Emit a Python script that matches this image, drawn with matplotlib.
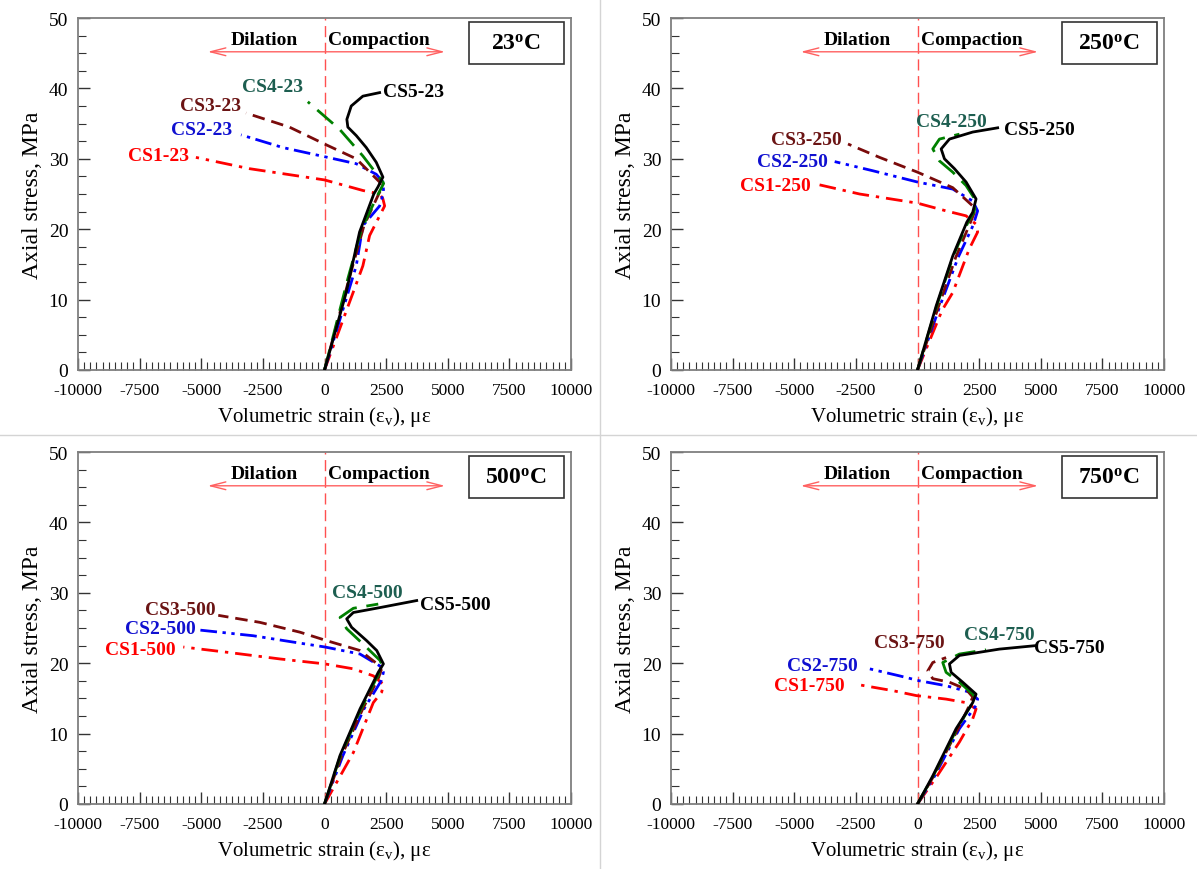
import matplotlib
matplotlib.use("Agg")
import matplotlib.pyplot as plt
from matplotlib.lines import Line2D
from matplotlib.patches import Rectangle
from matplotlib.ticker import MultipleLocator

plt.rcParams["font.family"] = ["Liberation Serif", "DejaVu Serif"]
plt.rcParams["mathtext.fontset"] = "custom"
plt.rcParams["mathtext.rm"] = "Liberation Serif"
plt.rcParams["mathtext.it"] = "Liberation Serif:italic"
plt.rcParams["mathtext.bf"] = "Liberation Serif:bold"
plt.rcParams["axes.unicode_minus"] = False

temps = [23, 250, 500, 750]
names = ["CS1", "CS2", "CS3", "CS4", "CS5"]

# volumetric strain (micro-strain) / axial stress (MPa), CS1..CS5 per temperature
strain_23 = [
    [0, 1160, 1557, 1830, 2236, 2440, 2370, 2236, 1557, 0, -3049, -5217],
    [0, 1288, 1557, 2236, 2400, 2370, 2100, 1288, 0, -1694, -3387],
    [0, 1000, 1600, 2200, 2320, 2236, 1288, 0, -1423, -3184],
    [0, 950, 1500, 2150, 2400, 2370, 1557, 610, -677],
    [0, 880, 1423, 2000, 2168, 2370, 2100, 1694, 1288, 947, 907, 1085, 1557, 2236],
]
stress_23 = [
    [0, 11.0, 14.8, 19.1, 21.9, 23.3, 24.3, 25.0, 25.5, 27.0, 28.6, 30.2],
    [0, 14.8, 20.5, 23.3, 25.2, 26.7, 27.8, 29.3, 30.3, 31.6, 33.4],
    [0, 13.0, 20.5, 25.0, 25.8, 26.7, 30.0, 32.1, 34.5, 36.5],
    [0, 13.0, 20.0, 24.8, 26.5, 26.7, 30.4, 34.2, 38.1],
    [0, 11.0, 19.6, 25.0, 26.0, 27.4, 29.5, 31.6, 33.3, 34.5, 35.6, 37.5, 38.9, 39.4],
]

strain_250 = [
    [0, 1000, 1430, 2100, 2440, 2376, 1970, 1160, 0, -2350, -4100],
    [0, 900, 1650, 2250, 2440, 2240, 1430, 0, -1810, -3360],
    [0, 850, 1550, 2150, 2300, 2240, 1430, 0, -1538, -2820],
    [0, 780, 1450, 2050, 2300, 2376, 1970, 1430, 890, 620, 890, 1700],
    [0, 757, 1430, 2000, 2240, 2376, 1971, 1498, 1093, 960, 1296, 2240, 3252],
]
stress_250 = [
    [0, 8.5, 11.0, 17.2, 19.6, 20.7, 21.9, 22.6, 23.7, 25.0, 26.4],
    [0, 9.0, 16.0, 20.5, 22.6, 24.0, 25.7, 26.7, 28.3, 29.6],
    [0, 9.0, 16.0, 21.0, 22.3, 23.3, 25.9, 28.1, 30.2, 32.1],
    [0, 9.1, 16.2, 21.0, 22.5, 24.0, 26.2, 28.1, 29.7, 31.4, 32.8, 33.5],
    [0, 9.1, 16.2, 21.0, 22.4, 24.3, 26.7, 28.6, 30.0, 31.4, 32.8, 33.8, 34.4],
]

strain_500 = [
    [0, 1170, 1980, 2320, 2390, 1980, 1170, 20, -1800, -3830, -5730],
    [0, 750, 1600, 2300, 2390, 2250, 1440, 20, -1270, -2890, -5050],
    [0, 700, 1550, 2200, 2300, 2250, 1440, 90, -990, -2620, -4310],
    [0, 650, 1480, 2200, 2350, 2250, 1570, 900, 630, 1170, 2180],
    [0, 630, 1440, 2180, 2390, 2120, 1710, 1100, 900, 1170, 2250, 3740],
]
stress_500 = [
    [0, 7.3, 14.4, 15.9, 17.0, 18.2, 19.2, 19.9, 20.6, 21.5, 22.3],
    [0, 6.9, 13.5, 17.5, 18.7, 19.6, 21.3, 22.3, 23.0, 23.9, 24.7],
    [0, 6.9, 13.5, 18.0, 19.0, 19.6, 21.8, 23.2, 24.4, 25.8, 26.8],
    [0, 6.9, 13.5, 18.5, 19.6, 20.4, 22.7, 24.9, 26.5, 27.8, 28.4],
    [0, 6.9, 13.5, 18.7, 19.9, 21.8, 23.2, 25.1, 26.3, 27.2, 27.9, 28.9],
]

strain_750 = [
    [0, 800, 1700, 2240, 2376, 1970, 1160, -50, -1000, -2480],
    [0, 700, 1700, 2376, 2440, 2105, 1160, 80, -730, -1943],
    [0, 660, 1650, 2105, 2240, 1970, 1296, 620, 417, 620, 1160],
    [0, 640, 1600, 2200, 2300, 2240, 1700, 1160, 1024, 1700, 2780],
    [0, 620, 1566, 2240, 2376, 1834, 1364, 1296, 1700, 3320, 4805],
]
stress_750 = [
    [0, 4.0, 8.8, 12.1, 13.5, 14.4, 14.9, 15.4, 16.1, 17.0],
    [0, 4.0, 10.7, 14.0, 14.9, 15.9, 16.8, 17.5, 18.2, 19.2],
    [0, 4.0, 10.7, 14.0, 15.2, 16.3, 17.3, 17.8, 18.9, 20.1, 20.8],
    [0, 4.0, 10.7, 14.2, 15.2, 15.6, 17.3, 18.7, 20.1, 21.3, 21.9],
    [0, 4.0, 10.7, 14.4, 15.6, 17.3, 18.7, 19.9, 21.1, 22.0, 22.5],
]

strains = [strain_23, strain_250, strain_500, strain_750]
stresses = [stress_23, stress_250, stress_500, stress_750]

# where each specimen name sits (data coords)
label_xy = [
    [(-6750, 30.5), (-5000, 34.2), (-4630, 37.6), (-2110, 40.2), (3620, 39.5)],
    [(-5750, 26.2), (-5070, 29.6), (-4500, 32.7), (1364, 35.3), (4940, 34.1)],
    [(-7480, 21.9), (-6670, 24.9), (-5860, 27.6), (1720, 30.0), (5300, 28.3)],
    [(-4370, 16.9), (-3846, 19.7), (-320, 22.9), (3320, 24.1), (6150, 22.3)],
]

line_colors = ["#ff0000", "#0000ff", "#7a0a0a", "#008000", "#000000"]
text_colors = ["#ff0000", "#1010d0", "#6b1414", "#1d5e50", "#000000"]
dashes = [(6, 2.5, 1.2, 2.5), (6, 2, 1.2, 2, 1.2, 2), (4.5, 2.5), (7.5, 3.5), ()]

fig = plt.figure(figsize=(11.97, 8.70), dpi=100)

W, H = 1197.0, 870.0
boxes = [(78, 19), (671, 19), (78, 453), (671, 453)]

for k, (px, py) in enumerate(boxes):
    ax = fig.add_axes([px / W, 1 - (py + 352) / H, 493 / W, 352 / H])
    for i in range(5):
        ax.plot(strains[k][i], stresses[k][i], color=line_colors[i],
                lw=2.0, dashes=dashes[i], solid_joinstyle="round", zorder=3)
        lx, ly = label_xy[k][i]
        ax.text(lx, ly, f"{names[i]}-{temps[k]}", color=text_colors[i],
                fontsize=14, fontweight="bold", ha="center", va="center")

    # zero-strain divider and direction arrow
    ax.plot([0, 0], [0, 50], color="#ff5050", lw=1.0, dashes=(8, 4), zorder=2)
    ax.annotate("", xy=(-4850, 45.2), xytext=(5000, 45.2),
                arrowprops=dict(arrowstyle="<->,head_length=1.1,head_width=0.28",
                                color="#ff6060", lw=1.0))
    ax.text(-2450, 46.9, "Dilation", fontsize=14, fontweight="bold",
            ha="center", va="center")
    ax.text(2200, 46.9, "Compaction", fontsize=14, fontweight="bold",
            ha="center", va="center")

    ax.add_patch(Rectangle((5850, 43.5), 3850, 5.9, fill=False,
                           edgecolor="#333333", lw=1.2, zorder=4))
    ax.text(7775, 46.4, f"{temps[k]}" + r"$^{\mathbf{o}}$C", fontsize=17,
            fontweight="bold", ha="center", va="center", zorder=5)

    ax.set_xlim(-10000, 10000)
    ax.set_ylim(0, 50)
    ax.xaxis.set_major_locator(MultipleLocator(2500))
    ax.xaxis.set_minor_locator(MultipleLocator(250))
    ax.yaxis.set_major_locator(MultipleLocator(10))
    ax.yaxis.set_minor_locator(MultipleLocator(2.5))
    ax.tick_params(which="both", direction="in", top=False, right=False,
                   color="#333333")
    ax.tick_params(axis="x", pad=9, labelsize=12.5)
    ax.tick_params(axis="y", pad=7, labelsize=14)
    ax.tick_params(which="major", length=8.5, width=1.0)
    ax.tick_params(which="minor", length=5.5, width=0.8)
    for sp in ax.spines.values():
        sp.set_color("#7f7f7f")
        sp.set_linewidth(1.3)
    ax.set_xlabel(r"Volumetric strain (ε$_{\rm v}$), με", fontsize=15, labelpad=4)
    ax.set_ylabel("Axial stress, MPa", fontsize=17, labelpad=4)

# thin grey panel dividers
fig.add_artist(Line2D([599.5 / W, 599.5 / W], [0, 1], color="#d4d4d4", lw=1.0))
fig.add_artist(Line2D([0, 1], [1 - 436 / H, 1 - 436 / H], color="#d4d4d4", lw=1.0))

fig.savefig("out.png", dpi=100)
